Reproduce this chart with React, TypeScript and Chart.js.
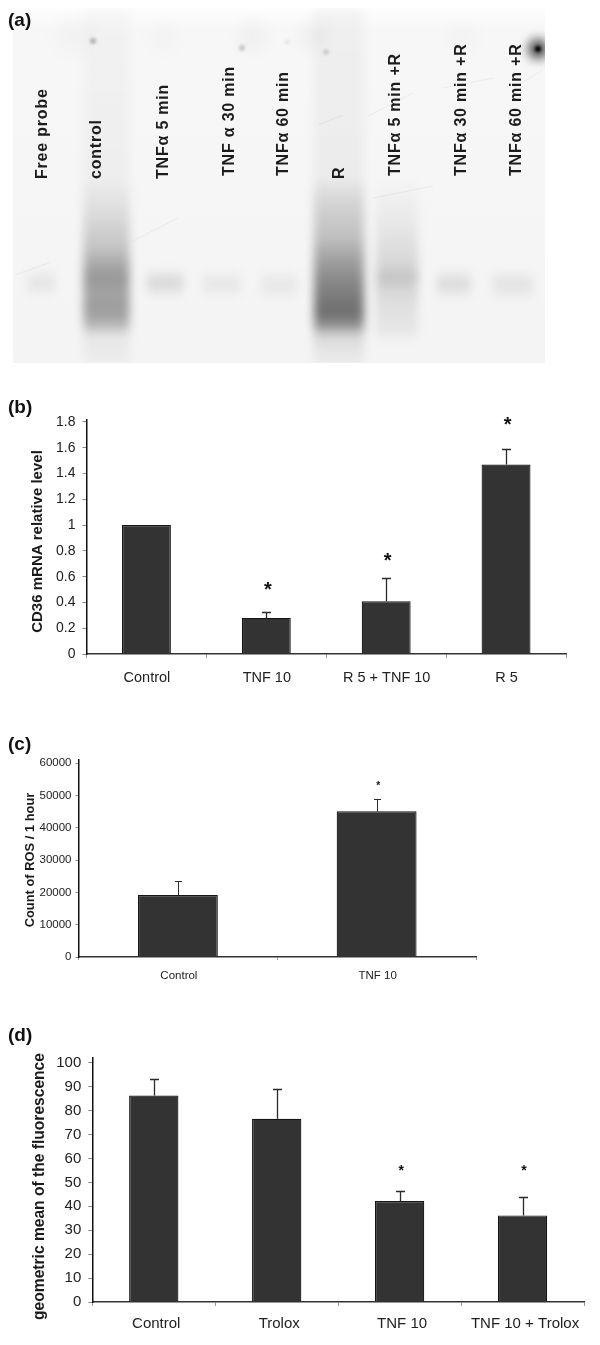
import React, { useEffect, useRef } from "react";
import { Chart, registerables } from "chart.js";

Chart.register(...registerables);

const SANS = '"Liberation Sans", Arial, sans-serif';

// ---------- panel (a): gel, in gel units ----------
const laneLabels = ["Free probe", "control", "TNFα 5 min", "TNF α 30 min", "TNFα 60 min", "R", "TNFα 5 min +R", "TNFα 30 min +R", "TNFα 60 min +R"];
const laneLabelX = [30, 84, 151, 217, 271, 327, 383, 449, 504];
const laneLabelY = [171, 171, 171, 168, 168, 171, 168, 168, 168];
// lane density: centre, half width, then density stops along the lane
const laneX = [28, 93.5, 152, 209, 266, 326, 384, 441, 500];
const laneHalf = [14, 23, 18, 19, 18, 25, 21, 17, 20];
const laneStopY = [
  [260, 275, 290],
  [0, 170, 200, 240, 258, 270, 285, 302, 315, 328, 355],
  [260, 275, 290],
  [260, 276, 292],
  [260, 277, 294],
  [0, 170, 190, 230, 255, 272, 290, 305, 318, 326, 340, 355],
  [170, 220, 255, 270, 282, 300, 322, 335],
  [260, 276, 292],
  [260, 277, 294],
];
const laneStopDark = [
  [0, 0.07, 0],
  [0.02, 0.03, 0.09, 0.2, 0.32, 0.38, 0.33, 0.36, 0.28, 0.05, 0.03],
  [0, 0.13, 0],
  [0, 0.06, 0],
  [0, 0.06, 0],
  [0.03, 0.04, 0.12, 0.22, 0.36, 0.44, 0.5, 0.55, 0.4, 0.14, 0.06, 0.05],
  [0, 0.06, 0.12, 0.2, 0.12, 0.08, 0.06, 0],
  [0, 0.11, 0],
  [0, 0.08, 0],
];
const spotX = [80, 229, 313, 274, 525, 525, 60, 150, 240, 300, 450];
const spotY = [33, 40, 44, 34, 41, 41, 28, 30, 28, 28, 30];
const spotR = [3, 3, 2.5, 2.5, 10, 3, 16, 14, 14, 14, 14];
const spotDark = [0.25, 0.18, 0.18, 0.08, 0.7, 1, 0.025, 0.015, 0.03, 0.03, 0.02];
const scratchX1 = [2, 305, 120, 355, 430, 500, 360];
const scratchY1 = [267, 117, 233, 108, 80, 80, 190];
const scratchX2 = [38, 330, 165, 400, 480, 530, 420];
const scratchY2 = [254, 107, 210, 85, 70, 62, 178];

// ---------- panel (b) ----------
const bCategories = ["Control", "TNF 10", "R 5 + TNF 10", "R 5"];
const bValues = [1, 0.28, 0.41, 1.47];
const bErrorTops = [null, 0.326, 0.59, 1.59];
const bStars = [null, 0.52, 0.748, 1.805];
const bTicks = [0, 0.2, 0.4, 0.6, 0.8, 1, 1.2, 1.4, 1.6, 1.8];

// ---------- panel (c) ----------
const cCategories = ["Control", "TNF 10"];
const cValues = [19200, 45100];
const cErrorTops = [23400, 49000];
const cStars = [null, 53600];
const cTicks = [0, 10000, 20000, 30000, 40000, 50000, 60000];

// ---------- panel (d) ----------
const dCategories = ["Control", "Trolox", "TNF 10", "TNF 10 + Trolox"];
const dValues = [86.3, 76.6, 42.2, 36.2];
const dErrorTops = [93.2, 89, 46.3, 43.8];
const dStars = [null, null, 55.8, 55.8];
const dTicks = [0, 10, 20, 30, 40, 50, 60, 70, 80, 90, 100];

function GelPanel() {
  const ref = useRef<HTMLCanvasElement>(null);
  useEffect(() => {
    const gelPlugin = {
      id: "gel",
      beforeDatasetsDraw(chart: any) {
        const { ctx, chartArea: a, scales } = chart;
        const sx = scales.x;
        const sy = scales.y;
        ctx.save();
        ctx.beginPath();
        ctx.rect(a.left, a.top, a.right - a.left, a.bottom - a.top);
        ctx.clip();
        const bg = ctx.createLinearGradient(0, a.top, 0, a.bottom);
        bg.addColorStop(0, "#fdfdfd");
        bg.addColorStop(0.06, "#f7f7f7");
        bg.addColorStop(1, "#f4f4f4");
        ctx.fillStyle = bg;
        ctx.fillRect(a.left, a.top, a.right - a.left, a.bottom - a.top);
        laneX.forEach((x, i) => {
          const ys = laneStopY[i];
          const y0 = sy.getPixelForValue(ys[0]);
          const y1 = sy.getPixelForValue(ys[ys.length - 1]);
          const g = ctx.createLinearGradient(0, y0, 0, y1);
          ys.forEach((v: number, k: number) => {
            g.addColorStop((v - ys[0]) / (ys[ys.length - 1] - ys[0]), `rgba(0,0,0,${laneStopDark[i][k]})`);
          });
          ctx.filter = "blur(5px)";
          ctx.fillStyle = g;
          const px = sx.getPixelForValue(x);
          ctx.fillRect(px - laneHalf[i], y0, laneHalf[i] * 2, y1 - y0);
        });
        spotX.forEach((x, i) => {
          ctx.filter = `blur(${Math.max(1.5, spotR[i] * 0.55)}px)`;
          ctx.fillStyle = `rgba(0,0,0,${spotDark[i]})`;
          ctx.beginPath();
          ctx.arc(sx.getPixelForValue(x), sy.getPixelForValue(spotY[i]), spotR[i], 0, Math.PI * 2);
          ctx.fill();
        });
        ctx.filter = "blur(0.6px)";
        ctx.strokeStyle = "rgba(0,0,0,0.05)";
        ctx.lineWidth = 1;
        scratchX1.forEach((x, i) => {
          ctx.beginPath();
          ctx.moveTo(sx.getPixelForValue(x), sy.getPixelForValue(scratchY1[i]));
          ctx.lineTo(sx.getPixelForValue(scratchX2[i]), sy.getPixelForValue(scratchY2[i]));
          ctx.stroke();
        });
        ctx.filter = "none";
        ctx.restore();
      },
      afterDatasetsDraw(chart: any) {
        const { ctx, scales } = chart;
        ctx.save();
        ctx.fillStyle = "#1c1c1c";
        ctx.font = `bold 16px ${SANS}`;
        (ctx as any).letterSpacing = "0.8px";
        ctx.textBaseline = "middle";
        ctx.textAlign = "left";
        laneLabels.forEach((t, i) => {
          ctx.save();
          ctx.translate(scales.x.getPixelForValue(laneLabelX[i]), scales.y.getPixelForValue(laneLabelY[i]));
          ctx.rotate(-Math.PI / 2);
          ctx.fillText(t, 0, 0);
          ctx.restore();
        });
        ctx.restore();
      },
    };
    const chart = new Chart(ref.current!, {
      type: "scatter",
      data: { datasets: [{ data: laneX.map((x) => ({ x, y: 275 })), pointRadius: 0 }] },
      options: {
        animation: false,
        responsive: false,
        layout: { padding: { left: 13, right: 55, top: 8, bottom: 17 } },
        plugins: { legend: { display: false }, tooltip: { enabled: false } },
        scales: {
          x: { type: "linear", min: 0, max: 532, display: false },
          y: { type: "linear", min: 0, max: 355, reverse: true, display: false },
        },
      },
      plugins: [gelPlugin],
    } as any);
    return () => chart.destroy();
  }, []);
  return <canvas ref={ref} width={600} height={380} style={{ position: "absolute", left: 0, top: 0, width: 600, height: 380 }} />;
}

interface BarProps {
  top: number;
  height: number;
  left: number;
  right: number;
  plotTop: number;
  plotBottom: number;
  categories: string[];
  values: number[];
  errorTops: (number | null)[];
  stars: (number | null)[];
  ticks: number[];
  max: number;
  barFrac: number;
  tickSize: number;
  labelSize: number;
  labelOffset: number;
  titleSize: number;
  title: string;
  titleX: number;
  titleY: number;
  tickLen: number;
  tickPad: number;
  labelPad: number;
  starSize: number;
  capHalf: number;
  lineWidth: number;
}

function BarPanel(p: BarProps) {
  const ref = useRef<HTMLCanvasElement>(null);
  useEffect(() => {
    const annot = {
      id: "annot",
      afterDatasetsDraw(chart: any) {
        const { ctx, scales } = chart;
        const { x, y } = scales;
        ctx.save();
        ctx.strokeStyle = "#2a2a2a";
        ctx.lineWidth = p.lineWidth;
        p.errorTops.forEach((e, i) => {
          if (e === null) return;
          const cx = Math.round(x.getPixelForValue(i)) + 0.5;
          const y0 = y.getPixelForValue(p.values[i]);
          const y1 = Math.round(y.getPixelForValue(e)) + 0.5;
          ctx.beginPath();
          ctx.moveTo(cx, y0);
          ctx.lineTo(cx, y1);
          ctx.moveTo(cx - p.capHalf, y1);
          ctx.lineTo(cx + p.capHalf, y1);
          ctx.stroke();
        });
        ctx.fillStyle = "#111";
        ctx.font = `bold ${p.starSize}px ${SANS}`;
        ctx.textAlign = "center";
        ctx.textBaseline = "middle";
        p.stars.forEach((s, i) => {
          if (s === null) return;
          ctx.fillText("*", x.getPixelForValue(i) + 1.5, y.getPixelForValue(s) + p.starSize * 0.2);
        });
        ctx.save();
        ctx.font = `bold ${p.titleSize}px ${SANS}`;
        ctx.fillStyle = "#1a1a1a";
        ctx.translate(p.titleX, p.titleY - p.top);
        ctx.rotate(-Math.PI / 2);
        ctx.fillText(p.title, 0, 0);
        ctx.restore();
        ctx.restore();
      },
    };
    const chart = new Chart(ref.current!, {
      type: "bar",
      data: {
        labels: p.categories,
        datasets: [
          {
            data: p.values,
            backgroundColor: "#333333",
            borderColor: "#141414",
            borderWidth: 1.2,
            barPercentage: p.barFrac,
            categoryPercentage: 1,
          },
        ],
      },
      options: {
        animation: false,
        responsive: false,
        layout: { padding: { left: 0, right: 600 - p.right, top: p.plotTop - p.top, bottom: 0 } },
        plugins: { legend: { display: false }, tooltip: { enabled: false } },
        scales: {
          x: {
            type: "category",
            grid: { offset: true, drawOnChartArea: false, drawTicks: true, tickLength: p.tickLen, tickColor: "#9a9a9a", lineWidth: 1 },
            border: { display: true, color: "#333", width: 1.5 },
            ticks: { color: "#222", font: { size: p.labelSize, family: SANS }, padding: p.labelPad, labelOffset: p.labelOffset, maxRotation: 0, minRotation: 0, autoSkip: false },
            afterFit(s: any) {
              s.height = p.top + p.height - p.plotBottom;
              s.paddingLeft = 0;
              s.paddingRight = 0;
            },
          },
          y: {
            type: "linear",
            min: 0,
            max: p.max,
            afterBuildTicks(s: any) {
              s.ticks = p.ticks.map((value) => ({ value }));
            },
            grid: { drawOnChartArea: false, drawTicks: true, tickLength: p.tickLen, tickColor: "#8a8a8a", lineWidth: 1 },
            border: { display: true, color: "#111", width: 1.5 },
            ticks: { color: "#222", font: { size: p.tickSize, family: SANS }, padding: p.tickPad, callback: (v: any) => String(+Number(v).toFixed(1)) },
            afterFit(s: any) {
              s.width = p.left;
              s.paddingTop = 0;
              s.paddingBottom = 0;
            },
          },
        },
      },
      plugins: [annot],
    } as any);
    return () => chart.destroy();
  }, []);
  return <canvas ref={ref} width={600} height={p.height} style={{ position: "absolute", left: 0, top: p.top, width: 600, height: p.height }} />;
}

const panelLabels = [
  { t: "(a)", y: 8 },
  { t: "(b)", y: 395 },
  { t: "(c)", y: 732 },
  { t: "(d)", y: 1023 },
];

export default function App() {
  return (
    <div style={{ position: "absolute", left: 0, top: 0, width: 600, height: 1345, background: "#fff", overflow: "hidden" }}>
      <GelPanel />
      <BarPanel
        top={410} height={290} left={86.5} right={566} plotTop={420} plotBottom={654}
        categories={bCategories} values={bValues} errorTops={bErrorTops} stars={bStars} ticks={bTicks}
        max={1.815} barFrac={0.408} tickSize={14} labelSize={14.5} labelOffset={0.5}
        titleSize={15} title="CD36 mRNA relative level" titleX={37.5} titleY={541.5}
        tickLen={4} tickPad={7} labelPad={11} starSize={20} capHalf={4.5} lineWidth={1.3}
      />
      <BarPanel
        top={750} height={240} left={78.5} right={476} plotTop={760} plotBottom={957}
        categories={cCategories} values={cValues} errorTops={cErrorTops} stars={cStars} ticks={cTicks}
        max={61000} barFrac={0.402} tickSize={11.5} labelSize={11.5} labelOffset={1}
        titleSize={12.9} title="Count of ROS / 1 hour" titleX={30} titleY={860}
        tickLen={3} tickPad={4} labelPad={9} starSize={10} capHalf={3.5} lineWidth={1}
      />
      <BarPanel
        top={1048} height={297} left={92.3} right={584} plotTop={1058} plotBottom={1302}
        categories={dCategories} values={dValues} errorTops={dErrorTops} stars={dStars} ticks={dTicks}
        max={102} barFrac={0.401} tickSize={15} labelSize={15} labelOffset={2.5}
        titleSize={15.6} title="geometric mean of the fluorescence" titleX={40} titleY={1186.5}
        tickLen={4} tickPad={7} labelPad={9} starSize={14} capHalf={4.5} lineWidth={1.3}
      />
      {panelLabels.map((l) => (
        <div key={l.t} style={{ position: "absolute", left: 8, top: l.y, font: `bold 19px ${SANS}`, color: "#111", lineHeight: "24px" }}>
          {l.t}
        </div>
      ))}
    </div>
  );
}
